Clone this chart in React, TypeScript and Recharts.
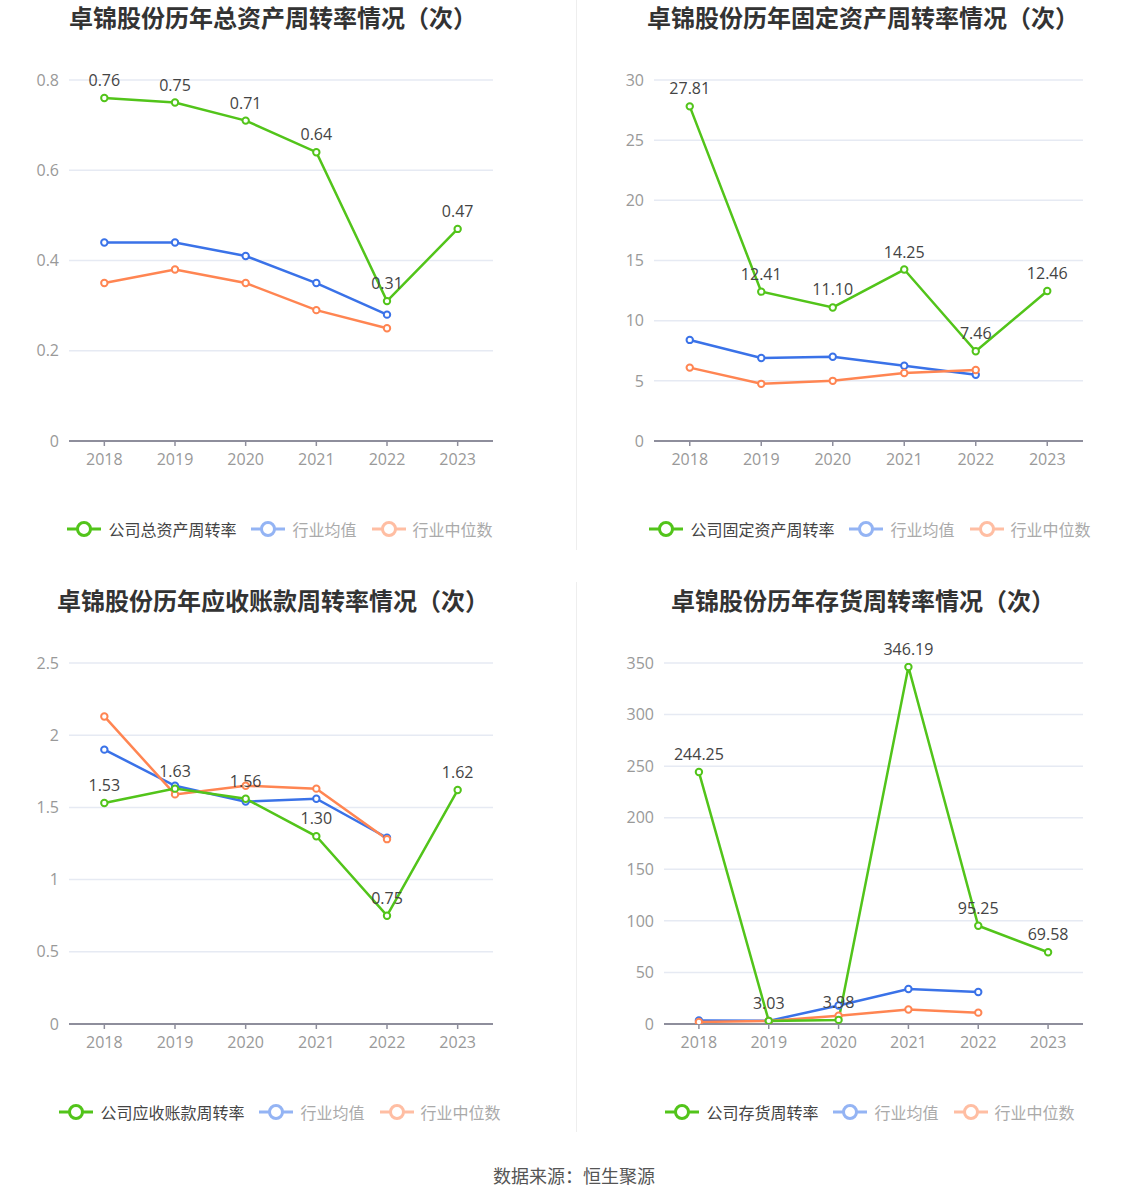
import React from "react";
import { LineChart, Line, XAxis, YAxis, CartesianGrid, LabelList } from "recharts";

const years = ["2018", "2019", "2020", "2021", "2022", "2023"];

// 总资产周转率
const totalCompany = [0.76, 0.75, 0.71, 0.64, 0.31, 0.47];
const totalAvg = [0.44, 0.44, 0.41, 0.35, 0.28, null];
const totalMedian = [0.35, 0.38, 0.35, 0.29, 0.25, null];
const totalTicks = [0, 0.2, 0.4, 0.6, 0.8];

// 固定资产周转率
const fixedCompany = [27.81, 12.41, 11.1, 14.25, 7.46, 12.46];
const fixedAvg = [8.4, 6.9, 7.0, 6.25, 5.5, null];
const fixedMedian = [6.1, 4.75, 5.0, 5.65, 5.9, null];
const fixedTicks = [0, 5, 10, 15, 20, 25, 30];

// 应收账款周转率
const recvCompany = [1.53, 1.63, 1.56, 1.3, 0.75, 1.62];
const recvAvg = [1.9, 1.65, 1.54, 1.56, 1.29, null];
const recvMedian = [2.13, 1.59, 1.65, 1.63, 1.28, null];
const recvTicks = [0, 0.5, 1, 1.5, 2, 2.5];

// 存货周转率
const invCompany = [244.25, 3.03, 3.98, 346.19, 95.25, 69.58];
const invAvg = [3.5, 3.0, 18, 34, 31, null];
const invMedian = [2, 3, 8, 14, 11, null];
const invTicks = [0, 50, 100, 150, 200, 250, 300, 350];

const GREEN = "#52c41a";
const BLUE = "#3a72e8";
const ORANGE = "#ff8552";

type PanelProps = {
  title: string;
  name: string;
  company: number[];
  avg: (number | null)[];
  median: (number | null)[];
  ticks: number[];
  fmt: (v: number) => string;
  left: number;
  top: number;
  yAxisWidth: number;
  rightMargin: number;
  titleCenter: number;
  legendCenter: number;
};

const HollowDot = (color: string) => (props: any) => {
  const { cx, cy, value } = props;
  if (value === null || value === undefined || cx == null || cy == null) return <g />;
  return <circle cx={cx} cy={cy} r={3.2} fill="#fff" stroke={color} strokeWidth={2} />;
};

const LegendIcon = ({ color }: { color: string }) => (
  <svg width={34} height={16} style={{ display: "block" }}>
    <line x1={0} y1={8} x2={34} y2={8} stroke={color} strokeWidth={3} />
    <circle cx={17} cy={8} r={6.5} fill="#fff" stroke={color} strokeWidth={3} />
  </svg>
);

const FONT = "'Open Sans', 'Noto Sans', sans-serif";

const Panel = (p: PanelProps) => {
  const data = years.map((y, i) => ({
    year: y,
    company: p.company[i],
    avg: p.avg[i],
    median: p.median[i],
  }));
  const max = p.ticks[p.ticks.length - 1];
  const plotW = 574 - p.yAxisWidth - p.rightMargin;
  const half = plotW / years.length / 2;
  return (
    <div style={{ position: "absolute", left: p.left, top: p.top, width: 574, height: 560 }}>
      <div
        style={{
          position: "absolute",
          left: p.titleCenter - 300,
          width: 600,
          top: 3,
          textAlign: "center",
          fontSize: 24,
          fontWeight: 700,
          color: "#333",
          fontFamily: "'Noto Sans CJK SC', 'Noto Sans', sans-serif",
          lineHeight: "28px",
        }}
      >
        {p.title}
      </div>
      <LineChart
        width={574}
        height={560}
        data={data}
        margin={{ top: 80, right: p.rightMargin, bottom: 89, left: 0 }}
        style={{ position: "absolute", left: 0, top: 0 }}
      >
        <CartesianGrid vertical={false} stroke="#e6eaf3" strokeWidth={1.5} />
        <XAxis
          dataKey="year"
          height={30}
          padding={{ left: half, right: half }}
          axisLine={{ stroke: "#8e8e9c", strokeWidth: 2 }}
          tickLine={{ stroke: "#8e8e9c", strokeWidth: 1.5 }}
          tickSize={5}
          tickMargin={8}
          tick={{ fill: "#999", fontSize: 16, fontFamily: FONT }}
          interval={0}
        />
        <YAxis
          width={p.yAxisWidth}
          domain={[0, max]}
          ticks={p.ticks}
          axisLine={false}
          tickLine={false}
          tickMargin={4}
          tick={{ fill: "#999", fontSize: 16, fontFamily: FONT }}
          allowDataOverflow
        />
        <Line
          dataKey="avg"
          stroke={BLUE}
          strokeWidth={2.5}
          dot={HollowDot(BLUE)}
          isAnimationActive={false}
        />
        <Line
          dataKey="median"
          stroke={ORANGE}
          strokeWidth={2.5}
          dot={HollowDot(ORANGE)}
          isAnimationActive={false}
        />
        <Line
          dataKey="company"
          stroke={GREEN}
          strokeWidth={2.5}
          dot={HollowDot(GREEN)}
          isAnimationActive={false}
        >
          <LabelList
            dataKey="company"
            position="top"
            offset={12}
            formatter={(v: any) => p.fmt(Number(v))}
            style={{ fill: "#444", fontSize: 16, fontFamily: FONT }}
          />
        </Line>
      </LineChart>
      <div
        style={{
          position: "absolute",
          left: p.legendCenter - 300,
          width: 600,
          top: 518,
          display: "flex",
          justifyContent: "center",
          alignItems: "center",
          fontSize: 16,
          fontFamily: "'Noto Sans CJK SC', 'Noto Sans', sans-serif",
          lineHeight: "22px",
        }}
      >
        <LegendIcon color={GREEN} />
        <span style={{ color: "#444", marginLeft: 7, marginRight: 15 }}>{p.name}</span>
        <LegendIcon color="#94b4f4" />
        <span style={{ color: "#aaa", marginLeft: 7, marginRight: 15 }}>行业均值</span>
        <LegendIcon color="#ffbea3" />
        <span style={{ color: "#aaa", marginLeft: 7 }}>行业中位数</span>
      </div>
    </div>
  );
};

const f2 = (v: number) => v.toFixed(2);

export default function App() {
  return (
    <div
      style={{
        position: "absolute",
        left: 0,
        top: 0,
        width: 1148,
        height: 1202,
        background: "#fff",
        overflow: "hidden",
      }}
    >
      <div style={{ position: "absolute", left: 576, top: 0, width: 1, height: 550, background: "#eee" }} />
      <div style={{ position: "absolute", left: 576, top: 582, width: 1, height: 550, background: "#eee" }} />
      <Panel
        title="卓锦股份历年总资产周转率情况（次）"
        name="公司总资产周转率"
        company={totalCompany}
        avg={totalAvg}
        median={totalMedian}
        ticks={totalTicks}
        fmt={f2}
        left={0}
        top={0}
        yAxisWidth={69}
        rightMargin={81}
        titleCenter={273}
        legendCenter={280}
      />
      <Panel
        title="卓锦股份历年固定资产周转率情况（次）"
        name="公司固定资产周转率"
        company={fixedCompany}
        avg={fixedAvg}
        median={fixedMedian}
        ticks={fixedTicks}
        fmt={f2}
        left={574}
        top={0}
        yAxisWidth={80}
        rightMargin={65}
        titleCenter={289}
        legendCenter={296}
      />
      <Panel
        title="卓锦股份历年应收账款周转率情况（次）"
        name="公司应收账款周转率"
        company={recvCompany}
        avg={recvAvg}
        median={recvMedian}
        ticks={recvTicks}
        fmt={f2}
        left={0}
        top={583}
        yAxisWidth={69}
        rightMargin={81}
        titleCenter={273}
        legendCenter={280}
      />
      <Panel
        title="卓锦股份历年存货周转率情况（次）"
        name="公司存货周转率"
        company={invCompany}
        avg={invAvg}
        median={invMedian}
        ticks={invTicks}
        fmt={f2}
        left={574}
        top={583}
        yAxisWidth={90}
        rightMargin={65}
        titleCenter={289}
        legendCenter={296}
      />
      <div
        style={{
          position: "absolute",
          left: 0,
          width: 1148,
          top: 1162,
          textAlign: "center",
          fontSize: 18,
          color: "#555",
          fontFamily: "'Noto Sans CJK SC', 'Noto Sans', sans-serif",
          lineHeight: "26px",
        }}
      >
        数据来源：恒生聚源
      </div>
    </div>
  );
}
